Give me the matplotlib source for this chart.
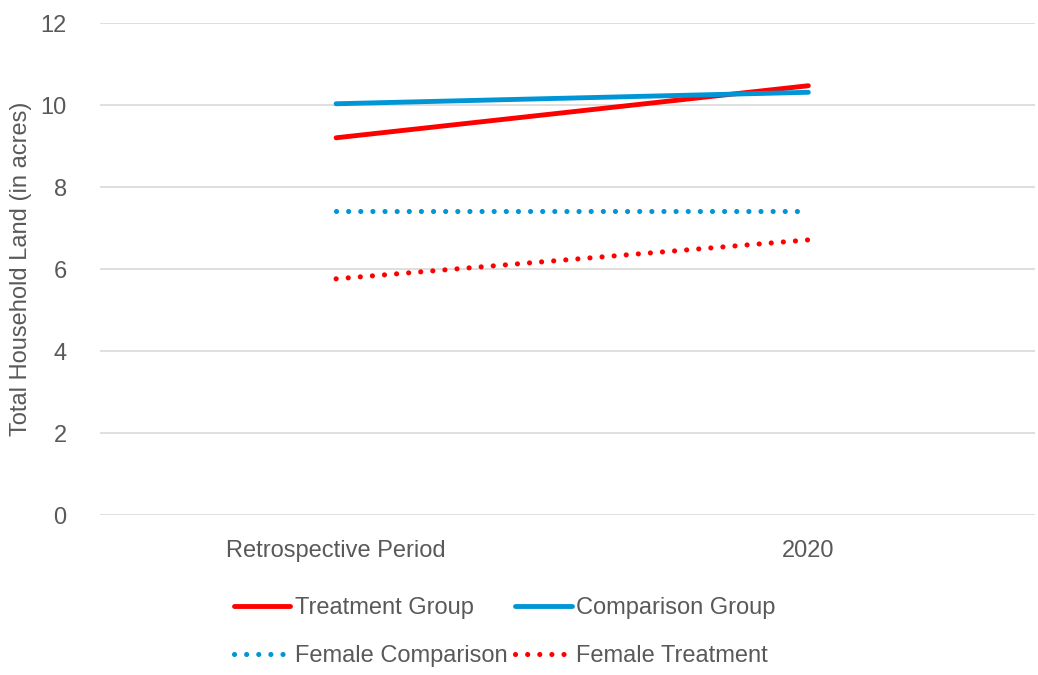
import matplotlib.pyplot as plt
from matplotlib import font_manager

# data
periods = ["Retrospective Period", "2020"]
treatment = [9.20, 10.47]
comparison = [10.03, 10.31]
female_comparison = [7.41, 7.41]
female_treatment = [5.76, 6.71]

fam = ["Liberation Sans Narrow", "Liberation Sans", "DejaVu Sans"]
names = {f.name for f in font_manager.fontManager.ttflist}
fam = [f for f in fam if f in names] or ["DejaVu Sans"]
plt.rcParams["font.family"] = fam

grey = "#595959"
red = "#FF0000"
blue = "#0096D6"
fs = 17

fig = plt.figure(figsize=(10.38, 6.75), dpi=100)
ax = fig.add_axes([100 / 1038, 1 - 515 / 675, 935 / 1038, 492 / 675])

x = list(range(len(periods)))
l1, = ax.plot(x, treatment, color=red, lw=3.5, solid_capstyle="round", label="Treatment Group")
l2, = ax.plot(x, comparison, color=blue, lw=3.5, solid_capstyle="round", label="Comparison Group")
l3, = ax.plot(x, female_comparison, color=blue, lw=3.7, dashes=(0.01, 2.35),
              dash_capstyle="round", label="Female Comparison")
l4, = ax.plot(x, female_treatment, color=red, lw=3.7, dashes=(0.01, 2.35),
              dash_capstyle="round", label="Female Treatment")

ax.set_xlim(-0.5, 1.48)
ax.set_ylim(0, 12)
ax.set_yticks(range(0, 13, 2))
ax.set_xticks(x)
ax.set_xticklabels(periods)
ax.grid(axis="y", color="#D9D9D9", lw=1.2)
ax.set_axisbelow(True)
for s in ax.spines.values():
    s.set_visible(False)
ax.tick_params(axis="both", length=0, labelsize=fs, labelcolor=grey)
ax.tick_params(axis="x", pad=18)
ax.tick_params(axis="y", pad=24)
ax.set_ylabel("Total Household Land (in acres)", fontsize=fs, color=grey, labelpad=6)

fig.legend(handles=[l1, l3, l2, l4], ncol=2, loc="center left",
           bbox_to_anchor=(222 / 1038, 1 - 632 / 675), frameon=False,
           fontsize=fs, labelcolor=grey, handlelength=2.4, handletextpad=0.2,
           columnspacing=0.3, labelspacing=1.1, borderpad=0)

fig.savefig("out.png", dpi=100)
